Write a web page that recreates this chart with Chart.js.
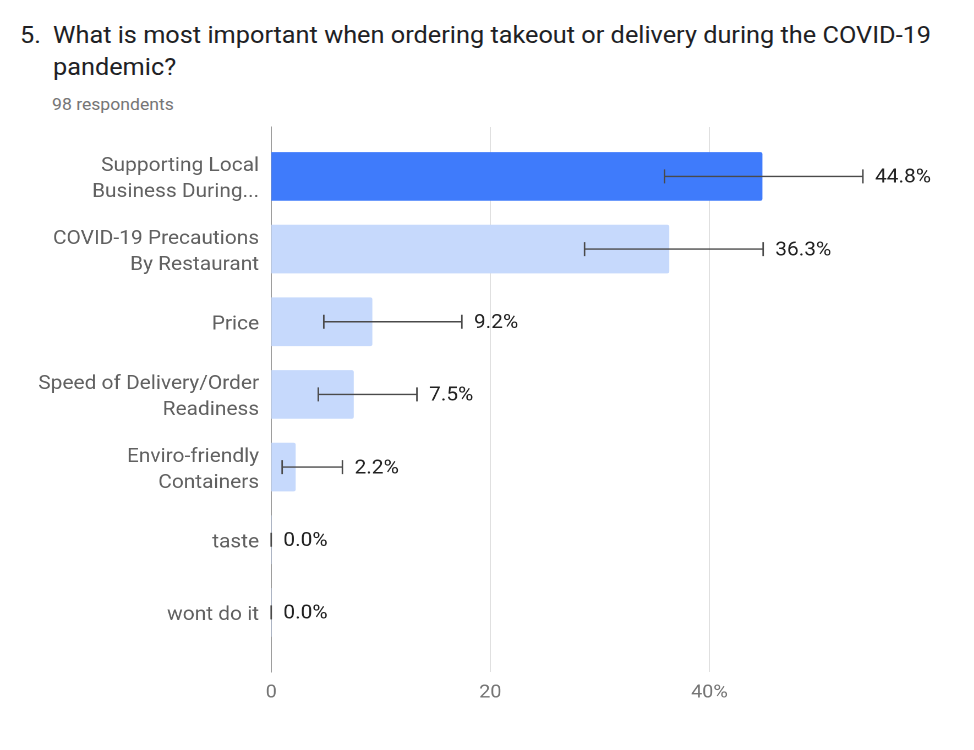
<!DOCTYPE html>
<html lang="en">
<head>
  <meta charset="UTF-8">
  <title>Takeout / delivery priorities</title>
  <script src="https://cdn.jsdelivr.net/npm/chart.js"></script>
  <style>
    body {
      margin: 0;
      background: #fff;
      font-family: Roboto, 'Noto Sans', sans-serif;
      width: 974px;
      height: 750px;
      overflow: hidden;
      position: relative;
    }
    /* the source screenshot is a little wider than tall, so text is stretched */
    .title {
      position: absolute;
      left: 20px;
      top: 20px;
      width: 850px;
      display: flex;
      font-size: 23px;
      line-height: 32px;
      color: #202124;
      transform: scaleX(1.1);
      transform-origin: left top;
    }
    .title .num {
      width: 30px;
      flex: none;
    }
    .sub {
      position: absolute;
      left: 52px;
      top: 95px;
      font-size: 16px;
      color: #757575;
      transform: scaleX(1.1);
      transform-origin: left top;
    }
    .chart-box {
      position: absolute;
      left: 0;
      top: 115px;
      width: 885.5px;
      height: 635px;
      transform: scaleX(1.1);
      transform-origin: left top;
    }
  </style>
</head>
<body>
  <div class="title"><span class="num">5.</span><span>What is most important when ordering takeout or delivery during the COVID-19 pandemic?</span></div>
  <div class="sub">98 respondents</div>
  <div class="chart-box"><canvas id="chart"></canvas></div>

  <script>
    const categories = [
      ['Supporting Local', 'Business During...'],
      ['COVID-19 Precautions', 'By Restaurant'],
      ['Price'],
      ['Speed of Delivery/Order', 'Readiness'],
      ['Enviro-friendly', 'Containers'],
      ['taste'],
      ['wont do it']
    ];
    const percents = [44.8, 36.3, 9.2, 7.5, 2.2, 0.0, 0.0];
    const errLow = [35.9, 28.6, 4.8, 4.3, 1.0, 0, 0];
    const errHigh = [54.0, 44.9, 17.4, 13.3, 6.5, 0, 0];
    const xTicks = [0, 20, 40];

    const barColors = percents.map((v, i) => i === 0 ? '#3f7bfb' : '#c6d9fc');

    // error bars + value labels, drawn on the chart's own scales
    const errorBars = {
      id: 'errorBars',
      afterDatasetsDraw(chart) {
        const { ctx, scales: { x, y } } = chart;
        ctx.save();
        ctx.strokeStyle = '#4a4a4a';
        ctx.lineWidth = 1.4;
        ctx.fillStyle = '#222';
        ctx.font = '19px Roboto';
        ctx.textBaseline = 'middle';
        percents.forEach((v, i) => {
          const py = y.getPixelForValue(i);
          const x1 = x.getPixelForValue(errLow[i]);
          const x2 = x.getPixelForValue(errHigh[i]);
          ctx.beginPath();
          ctx.moveTo(x1, py);
          ctx.lineTo(x2, py);
          ctx.moveTo(x1, py - 7);
          ctx.lineTo(x1, py + 7);
          ctx.moveTo(x2, py - 7);
          ctx.lineTo(x2, py + 7);
          ctx.stroke();
          ctx.fillText(v.toFixed(1) + '%', x2 + 11, py + 1.5);
        });
        ctx.restore();
      }
    };

    new Chart(document.getElementById('chart'), {
      type: 'bar',
      data: {
        datasets: [{
          data: percents.map((v, i) => ({ x: v, y: i })),
          backgroundColor: barColors,
          barThickness: 48,
          borderRadius: 2,
          borderSkipped: 'start'
        }]
      },
      options: {
        indexAxis: 'y',
        responsive: true,
        maintainAspectRatio: false,
        animation: false,
        devicePixelRatio: 2,
        layout: { padding: { top: 12, right: 41.8, left: 0, bottom: 0 } },
        plugins: {
          legend: { display: false },
          tooltip: { enabled: false }
        },
        scales: {
          x: {
            type: 'linear',
            min: 0,
            max: 60,
            afterBuildTicks: (scale) => {
              scale.ticks = xTicks.map(v => ({ value: v }));
            },
            afterFit: (scale) => { scale.height = 78; },
            ticks: {
              padding: 10,
              color: '#757575',
              font: { family: 'Roboto', size: 18 },
              callback: (v) => v === 40 ? '40%' : v
            },
            grid: {
              color: (c) => c.tick && c.tick.value === 0 ? 'rgba(0,0,0,0)' : '#e0e0e0',
              lineWidth: 1,
              tickLength: 0
            },
            border: { display: false }
          },
          y: {
            type: 'linear',
            reverse: true,
            offset: false,
            min: -0.68,
            max: 6.82,
            afterBuildTicks: (scale) => {
              scale.ticks = categories.map((c, i) => ({ value: i }));
            },
            afterFit: (scale) => {
              scale.width = 246.4;
              scale.paddingTop = 0;
              scale.paddingBottom = 0;
            },
            ticks: {
              padding: 11,
              labelOffset: 3,
              color: '#616161',
              font: { family: 'Roboto', size: 19, lineHeight: 1.37 },
              callback: (v) => categories[v]
            },
            grid: { display: false, drawTicks: false, tickLength: 0, offset: false },
            border: { display: true, color: '#9e9e9e', width: 1 }
          }
        }
      },
      plugins: [errorBars]
    });
  </script>
</body>
</html>
